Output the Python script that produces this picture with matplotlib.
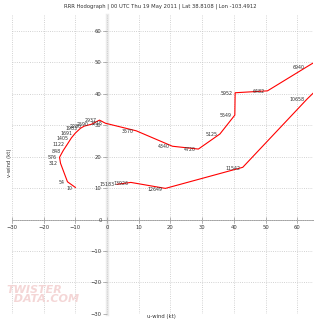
"""Hodograph chart: u/v wind components with height labels."""

import matplotlib
matplotlib.use("Agg")
import matplotlib.pyplot as plt

# Hodograph points (kt) and height labels (m)
u_wind = [-10.0, -12.5, -14.7, -15.0, -13.8, -12.5, -11.3, -10.0, -8.4, -7.2,
          -4.9, -2.4, -0.5, 9.2, 20.6, 28.8, 35.6, 40.3, 40.4, 50.6, 63.1,
          72.0, 72.0,
          63.1, 42.8, 18.4, 7.5, 3.1]
v_wind = [10.2, 12.0, 17.9, 19.8, 22.0, 24.0, 25.9, 27.5, 29.0, 29.7,
          30.3, 31.6, 30.6, 28.2, 23.3, 22.4, 27.2, 33.2, 40.3, 40.9, 48.6,
          54.0, 47.0,
          38.3, 16.6, 9.9, 11.8, 11.2]
heights = ["10", "54", "312", "576", "848", "1122", "1405", "1691", "1983", "2280",
           "2590", "2937", "3215", "3570", "4340", "4720", "5125", "5549", "5952",
           "6482", "6940",
           "", "",
           "10658", "11542", "12649", "13926", "15183"]

ticks = [-30, -20, -10, 0, 10, 20, 30, 40, 50, 60]
title = "RRR Hodograph | 00 UTC Thu 19 May 2011 | Lat 38.8108 | Lon -103.4912"


def main() -> None:
    fig = plt.figure(figsize=(3.2, 3.2), dpi=100)
    ax = fig.add_axes([0.0375, 0.019, 0.941, 0.934])
    ax.set_xlim(-30, 65)
    ax.set_ylim(-30, 65)

    # centred axes
    for side in ("top", "right"):
        ax.spines[side].set_visible(False)
    ax.spines["left"].set_position(("data", 0))
    ax.spines["bottom"].set_position(("data", 0))
    ax.spines["left"].set_color("#ebebeb")
    ax.spines["left"].set_linewidth(2.5)
    ax.spines["bottom"].set_color("#a0a0a0")
    ax.spines["bottom"].set_linewidth(0.7)
    ax.spines["left"].set_zorder(0)
    ax.spines["bottom"].set_zorder(0)

    ax.set_xticks(ticks)
    ax.set_yticks(ticks)
    ax.tick_params(axis="x", direction="inout", length=4, width=0.5,
                   colors="#999999", labelsize=3.8, labelcolor="#333333", pad=2)
    ax.tick_params(axis="y", direction="out", length=3, width=0.5,
                   colors="#999999", labelsize=3.8, labelcolor="#333333", pad=1)
    ax.grid(True, linestyle=":", color="#c4c4c4", linewidth=0.6)
    ax.set_axisbelow(True)

    # hodograph trace
    ax.plot(u_wind, v_wind, color="red", linewidth=0.8, zorder=3, clip_on=True)
    for u, v, h in zip(u_wind, v_wind, heights):
        if h and u <= 65:
            ax.annotate(h, (u, v), xytext=(-2, -0.5), textcoords="offset points",
                        ha="right", va="center", fontsize=3.4, color="#333333",
                        zorder=4)

    fig.text(0.5, 0.982, title, ha="center", va="center", fontsize=3.8, color="#333333")
    fig.text(0.505, 0.012, "u-wind (kt)", ha="center", va="center", fontsize=3.8,
             color="#333333")
    fig.text(0.03, 0.49, "v-wind (kt)", ha="center", va="center", fontsize=3.8,
             rotation=90, color="#333333")

    # watermark
    fig.text(0.02, 0.05, "TWISTER\n  DATA.COM", fontsize=8, fontweight="bold",
             style="italic", color="#f2cccc", alpha=0.8, ha="left", va="bottom",
             linespacing=0.85)

    fig.savefig("out.png", dpi=100)
    plt.close(fig)


if __name__ == "__main__":
    main()
